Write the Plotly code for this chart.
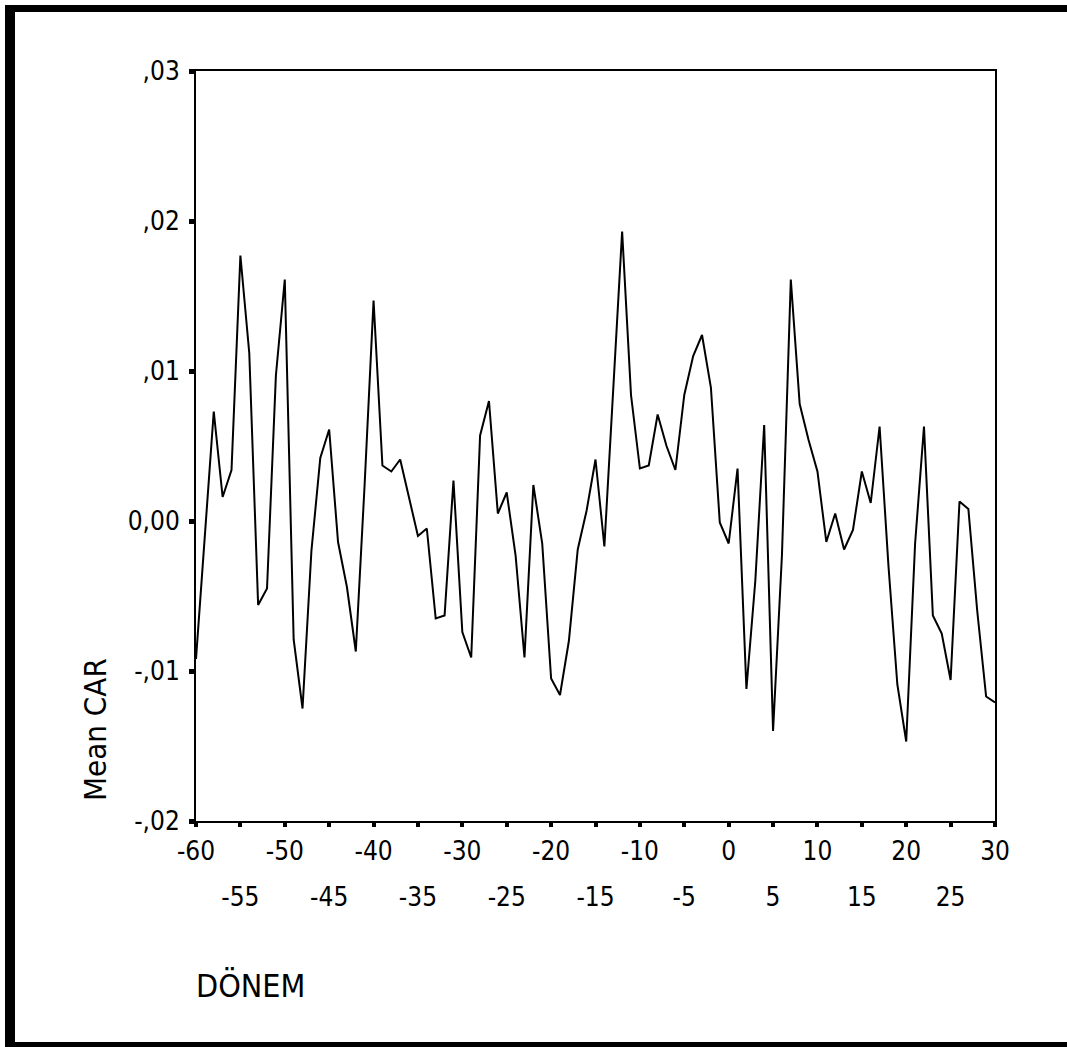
import plotly.graph_objects as go

# ---- data ----
donem = list(range(-60, 31))
mean_car = [
    -0.0092, -0.0010, 0.0073, 0.0016, 0.0034, 0.0177, 0.0112, -0.0056, -0.0045, 0.0097,
    0.0161, -0.0079, -0.0125, -0.0020, 0.0042, 0.0061, -0.0014, -0.0044, -0.0087, 0.0025,
    0.0147, 0.0037, 0.0033, 0.0041, 0.0016, -0.0010, -0.0005, -0.0065, -0.0063, 0.0027,
    -0.0074, -0.0091, 0.0057, 0.0080, 0.0005, 0.0019, -0.0023, -0.0091, 0.0024, -0.0015,
    -0.0105, -0.0116, -0.0080, -0.0019, 0.0007, 0.0041, -0.0017, 0.0088, 0.0193, 0.0084,
    0.0035, 0.0037, 0.0071, 0.0050, 0.0034, 0.0084, 0.0110, 0.0124, 0.0089, -0.0001,
    -0.0015, 0.0035, -0.0112, -0.0040, 0.0064, -0.0140, -0.0023, 0.0161, 0.0078, 0.0054,
    0.0033, -0.0014, 0.0005, -0.0019, -0.0006, 0.0033, 0.0012, 0.0063, -0.0030, -0.0109,
    -0.0147, -0.0015, 0.0063, -0.0063, -0.0075, -0.0106, 0.0013, 0.0008, -0.0060, -0.0117,
    -0.0121,
]
x_ticks_row1 = [-60, -50, -40, -30, -20, -10, 0, 10, 20, 30]
x_ticks_row2 = [-55, -45, -35, -25, -15, -5, 5, 15, 25]
y_tickvals = [-0.02, -0.01, 0.0, 0.01, 0.02, 0.03]
y_ticktext = ["-,02", "-,01", "0,00", ",01", ",02", ",03"]

# ---- layout geometry ----
W, H = 1067, 1047
ML, MR, MT, MB = 196, 72, 71, 226
PW, PH = W - ML - MR, H - MT - MB

def px(x):
    return (x - ML) / PW

def py(y):
    return (H - MB - y) / PH

FONT = "Liberation Sans Narrow, Arial Narrow, DejaVu Sans Condensed, sans-serif"

fig = go.Figure()
fig.add_trace(go.Scatter(
    x=donem, y=mean_car, mode="lines",
    line=dict(color="black", width=2),
    showlegend=False, hoverinfo="x+y",
))
# invisible companion trace so the second-row tick axis renders
fig.add_trace(go.Scatter(
    x=donem, y=mean_car, mode="lines", xaxis="x2",
    line=dict(color="rgba(0,0,0,0)", width=0),
    showlegend=False, hoverinfo="skip",
))

all_x_ticks = sorted(x_ticks_row1 + x_ticks_row2)
fig.update_layout(
    width=W, height=H,
    margin=dict(l=ML, r=MR, t=MT, b=MB, pad=0),
    paper_bgcolor="white", plot_bgcolor="white",
    font=dict(family=FONT, size=26, color="black"),
    xaxis=dict(
        range=[-60, 30], tickvals=all_x_ticks,
        ticktext=[str(v) if v in x_ticks_row1 else "" for v in all_x_ticks],
        ticks="outside", ticklen=4, tickwidth=4, tickcolor="black",
        showline=True, linecolor="black", linewidth=2, mirror=True,
        showgrid=False, zeroline=False,
        tickfont=dict(family=FONT, size=26),
        ticklabelstandoff=2,
    ),
    xaxis2=dict(
        range=[-60, 30], overlaying="x", anchor="y", side="bottom",
        tickvals=x_ticks_row2, ticktext=[str(v) for v in x_ticks_row2],
        ticks="", showline=False, showgrid=False, zeroline=False,
        tickfont=dict(family=FONT, size=26),
        ticklabelstandoff=58,
    ),
    yaxis=dict(
        range=[-0.02, 0.03], tickvals=y_tickvals, ticktext=y_ticktext,
        ticks="outside", ticklen=5, tickwidth=5, tickcolor="black",
        showline=True, linecolor="black", linewidth=2, mirror=True,
        showgrid=False, zeroline=False,
        tickfont=dict(family=FONT, size=26),
        ticklabelstandoff=4,
    ),
    shapes=[
        dict(type="rect", xref="paper", yref="paper", x0=px(5), x1=px(15), y0=py(1047), y1=py(5),
             fillcolor="black", line=dict(width=0), layer="above"),
        dict(type="rect", xref="paper", yref="paper", x0=px(5), x1=px(1067), y0=py(12), y1=py(5),
             fillcolor="black", line=dict(width=0), layer="above"),
        dict(type="rect", xref="paper", yref="paper", x0=px(5), x1=px(1067), y0=py(1047), y1=py(1042),
             fillcolor="black", line=dict(width=0), layer="above"),
    ],
    annotations=[
        dict(text="Mean CAR", xref="paper", yref="paper", x=px(95), y=py(730),
             textangle=-90, showarrow=False, xanchor="center", yanchor="middle",
             font=dict(family=FONT, size=31)),
        dict(text="DÖNEM", xref="paper", yref="paper", x=px(194), y=py(986),
             showarrow=False, xanchor="left", yanchor="middle",
             font=dict(family=FONT, size=32)),
    ],
)

fig.write_html("out.html")
